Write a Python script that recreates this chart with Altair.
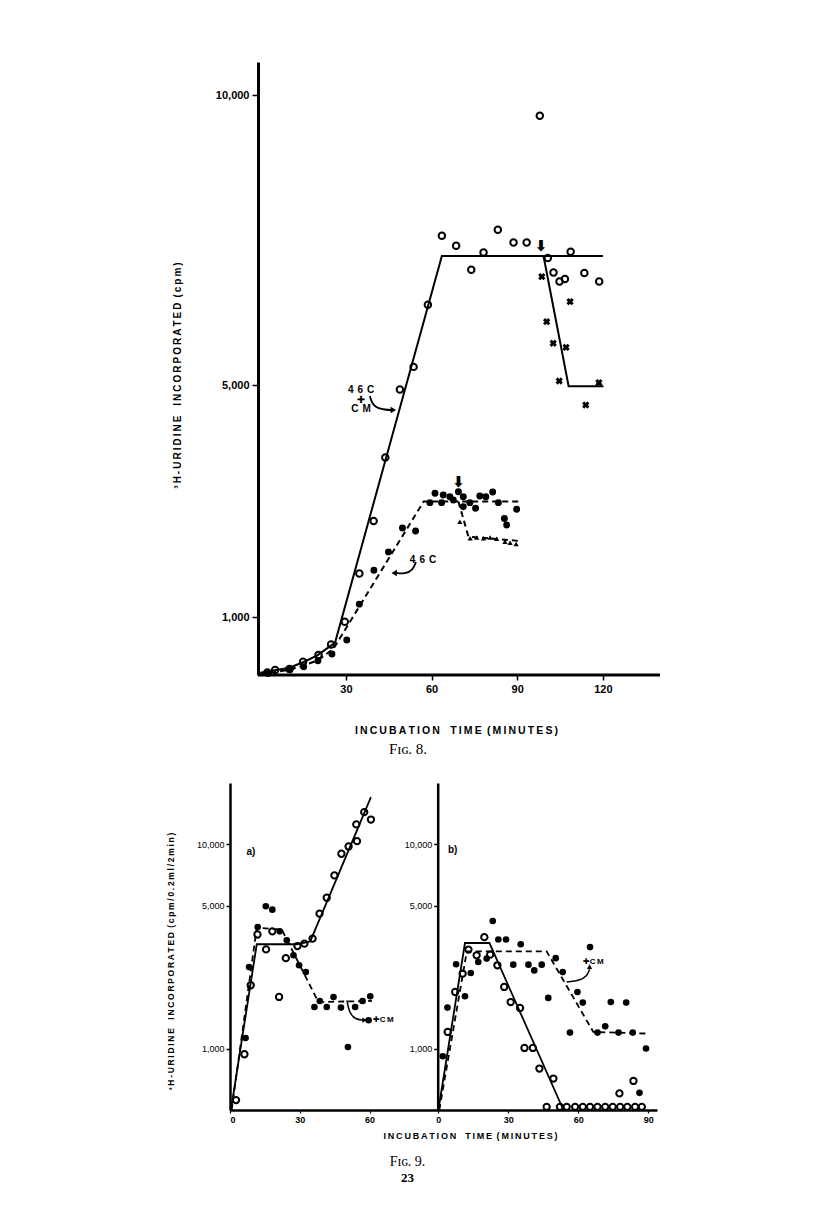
import altair as alt
import pandas as pd

# ---------------- Fig. 8 (linear cpm axis) ----------------
X8_TICKS = [30, 60, 90, 120]
Y8_TICKS = [1000, 5000, 10000]

# 46C + CM, open circles
F8_OPEN_T = [2.5, 5.2, 10.2, 15.0, 20.4, 24.8, 29.6, 34.7, 39.7, 43.8,
             48.9, 53.7, 58.7, 63.6, 68.6, 73.9, 78.2, 83.2, 88.7, 93.3,
             97.9, 100.7, 102.7, 104.8, 106.7, 108.7, 113.5, 118.7]
F8_OPEN_V = [45, 86, 103, 229, 344, 525, 917, 1750, 2656, 3752,
             4923, 5313, 6385, 7573, 7401, 6988, 7286, 7676, 7458, 7458,
             9644, 7189, 6942, 6787, 6828, 7298, 6931, 6787]
# crosses (after the arrow, upper curve)
F8_CROSS_T = [98.6, 100.3, 102.6, 104.7, 107.1, 108.5, 114.0, 118.6]
F8_CROSS_V = [6868, 6092, 5720, 5069, 5650, 6437, 4656, 5040]
# 46C, filled circles
F8_FILLED_T = [2.9, 10.4, 15.2, 20.2, 25.1, 30.3, 34.7, 39.8, 44.9, 49.8,
               54.4, 59.4, 61.2, 63.5, 64.1, 66.4, 67.6, 69.4, 71.1, 71.1,
               73.4, 75.4, 76.9, 79.0, 81.4, 83.4, 85.5, 86.3, 89.8]
F8_FILLED_V = [30, 91, 143, 246, 361, 602, 1222, 1807, 2123, 2536,
               2484, 2972, 3133, 2972, 3103, 3074, 3017, 3160, 3074, 2902,
               2972, 2874, 3087, 3074, 3155, 2972, 2700, 2586, 2857]
# triangles (after the arrow, lower curve)
F8_TRI_T = [69.9, 73.5, 75.8, 78.2, 80.5, 82.8, 85.7, 87.5, 89.6]
F8_TRI_V = [2643, 2357, 2370, 2357, 2370, 2350, 2300, 2280, 2259]
# fitted lines
F8_SOLID_T = [0, 5, 10, 15, 20, 26.2, 63.6, 120]
F8_SOLID_V = [40, 80, 120, 220, 340, 560, 7225, 7225]
F8_SOLID_DROP_T = [99.2, 108.0, 120.2]
F8_SOLID_DROP_V = [7225, 4980, 4980]
F8_DASH_T = [0, 5, 10, 15, 20, 25.6, 57.2, 90.4]
F8_DASH_V = [20, 50, 90, 160, 250, 450, 2990, 2990]
F8_DASH_DROP_T = [69.4, 72.9, 90.4]
F8_DASH_DROP_V = [2990, 2387, 2312]
F8_AXIS_T = [-0.8]
F8_AXIS_T2 = [140]
# annotations
F8_ANN_T = [35.3, 57.0]
F8_ANN_V = [4914, 1983]
F8_ANN_TEXT = ["4\u2009\u20096\u2009\u2009C\n\u271a\nC\u2009\u2009M", "4\u2009\u20096\u2009\u2009C"]
F8_CURVE1_T = [38.4, 39.5, 44.0, 46.1]
F8_CURVE1_V = [4810, 4620, 4570, 4569]
F8_HEAD1_T = [46.6]
F8_HEAD1_V = [4569]
F8_CURVE2_T = [47.5, 50.7, 53.5, 54.5]
F8_CURVE2_V = [1759, 1741, 1810, 1948]
F8_HEAD2_T = [46.9]
F8_HEAD2_V = [1759]
F8_ARROW_T = [98.3, 69.4]
F8_ARROW_V = [7400, 3330]

# ---------------- Fig. 9 (log axis) ----------------
X9A_TICKS = [0, 30, 60]
X9B_TICKS = [0, 30, 60, 90]
Y9_TICKS = [1000, 5000, 10000]

A_OPEN_T = [2.6, 6.2, 8.9, 11.8, 15.5, 18.2, 21.1, 24.0, 29.0, 32.0,
            35.5, 38.5, 41.6, 44.9, 47.9, 51.0, 54.6, 54.3, 57.7, 60.6]
A_OPEN_V = [559, 938, 2042, 3622, 3060, 3751, 1790, 2772, 3178, 3266,
            3455, 4580, 5480, 7050, 9000, 9770, 10380, 12540, 14390, 13240]
A_FILLED_T = [6.7, 8.2, 11.9, 15.4, 18.2, 21.4, 24.4, 27.3, 29.7, 32.6,
              36.3, 38.6, 41.6, 44.5, 47.7, 50.7, 53.8, 57.0, 60.3, 59.6]
A_FILLED_V = [1127, 2506, 3935, 4977, 4790, 3751, 3390, 2864, 2559, 2370,
              1599, 1711, 1599, 1790, 1588, 1018, 1599, 1711, 1802, 1377]
A_SOLID_T = [0.4, 11.5, 28.7, 34.5, 60.6]
A_SOLID_V = [500, 3243, 3243, 3350, 17060]
A_DASH_T = [0.7, 11.5, 22.3, 38.0, 61.0]
A_DASH_V = [500, 3908, 3820, 1690, 1711]
A_ANN_T = [9.0, 61.5]
A_ANN_V = [9143, 1376]
A_ANN_TEXT = ["a)", "\u271aC\u2009M"]
A_CURVE_T = [50.3, 51.2, 53.7, 57.3]
A_CURVE_V = [1723, 1506, 1391, 1377]
A_HEAD_T = [57.9]
A_HEAD_V = [1377]

B_OPEN_T = [4.0, 7.2, 10.4, 12.9, 16.4, 19.7, 22.2, 25.3, 28.2, 31.0,
            35.0, 36.9, 40.5, 43.3, 49.3, 77.6, 83.6,
            46.4, 52.1, 55.0, 58.6, 61.9, 65.0, 68.2, 71.5, 74.7, 77.9, 81.0, 84.3, 87.2]
B_OPEN_V = [1206, 1892, 2328, 3053, 2863, 3515, 2884, 2558, 2004, 1690,
            1580, 1007, 1007, 798, 713, 603, 694,
            518, 518, 518, 518, 518, 518, 518, 518, 518, 518, 518, 518, 518]
B_FILLED_T = [1.9, 3.9, 7.6, 11.4, 13.9, 17.1, 20.7, 23.3, 25.7, 29.0,
              32.1, 35.3, 38.6, 41.1, 44.3, 47.1, 50.3, 53.3, 56.4, 59.6,
              61.9, 65.0, 68.2, 71.5, 73.9, 77.2, 80.5, 83.3, 86.2, 89.0]
B_FILLED_V = [917, 1588, 2588, 1803, 2344, 2654, 2760, 4217, 3420, 3420,
              2576, 3242, 2576, 2415, 2576, 1770, 2773, 2370, 1197, 1892,
              1679, 3141, 1197, 1285, 1690, 1197, 1679, 1197, 607, 1000]
B_SOLID_T = [0, 11.4, 21.9, 53.6]
B_SOLID_V = [500, 3289, 3289, 500]
B_DASH_T = [0.4, 12.2, 46.4, 66.4, 90.0]
B_DASH_V = [500, 2994, 2994, 1206, 1184]
B_ANN_T = [6.1, 62.0]
B_ANN_V = [9350, 2642]
B_ANN_TEXT = ["b)", "\u271aC\u2009M"]
B_CURVE_T = [55.0, 60.7, 63.7, 64.8]
B_CURVE_V = [2120, 2158, 2260, 2444]
B_HEAD_T = [64.8]
B_HEAD_V = [2520]

SANS = "Liberation Sans, Arial, DejaVu Sans"
SERIF = "Liberation Serif, DejaVu Serif"
GLYPH = "DejaVu Sans"


def spaced(s, gap="\u2009"):
    return gap.join(s)


X_TITLE = spaced("INCUBATION") + "\u2003" + spaced("TIME") + "\u2002" + spaced("(MINUTES)")
Y8_TITLE = spaced("\u00b3H-URIDINE") + "\u2003" + spaced("INCORPORATED") + "\u2002" + spaced("(cpm)")
Y9_TITLE = spaced("\u00b3H-URIDINE") + "\u2003" + spaced("INCORPORATED") + "\u2002" + spaced("(cpm/0.2ml/2min)")

TOP_W, TOP_H = 430, 613
BOT_W, BOT_H = 427, 327


def df(t, v, **extra):
    d = {"t": t, "v": v}
    d.update(extra)
    return pd.DataFrame(d)


# ---------- Fig. 8 encodings ----------
x8_scale = alt.Scale(domain=[-10.6, 140], nice=False, zero=False)
y8_scale = alt.Scale(domain=[0, 10570], nice=False, zero=False)
x8_axis = alt.Axis(orient="bottom", values=X8_TICKS, domain=False, grid=False,
                   tickSize=5, tickWidth=1.5, tickColor="black",
                   labelFont=SANS, labelFontSize=11, labelFontWeight="bold",
                   labelColor="black", labelPadding=3,
                   title=X_TITLE, titleFont=SANS, titleFontSize=10.5,
                   titleFontWeight="bold", titleColor="black",
                   titleX=226, titleY=55, titleAlign="center", titleBaseline="middle")
y8_axis = alt.Axis(orient="left", values=Y8_TICKS, format=",d", offset=-28,
                   domainWidth=3, domainColor="black", grid=False,
                   tickSize=6, tickWidth=1.5, tickColor="black",
                   labelFont=SANS, labelFontSize=11, labelFontWeight="bold",
                   labelColor="black", labelPadding=3,
                   title=Y8_TITLE, titleFont=SANS, titleFontSize=10,
                   titleFontWeight="bold", titleColor="black", titleAngle=270,
                   titleX=-81, titleY=313, titleAlign="center", titleBaseline="middle")


def X8():
    return alt.X("t:Q", scale=x8_scale, axis=x8_axis)


def Y8():
    return alt.Y("v:Q", scale=y8_scale, axis=y8_axis)


def lines(data, dashed, enc_x, enc_y, width=2):
    kw = dict(color="black", strokeWidth=width)
    if dashed:
        kw["strokeDash"] = [6, 4]
    return alt.Chart(data).mark_line(**kw).encode(x=enc_x(), y=enc_y())


def open_pts(data, enc_x, enc_y, size=42):
    return alt.Chart(data).mark_point(shape="circle", filled=False, color="black",
                                      strokeWidth=2, size=size, opacity=1).encode(x=enc_x(), y=enc_y())


def filled_pts(data, enc_x, enc_y, size=48):
    return alt.Chart(data).mark_point(shape="circle", filled=True, color="black",
                                      size=size, opacity=1).encode(x=enc_x(), y=enc_y())


def texts(data, enc_x, enc_y, font=SANS, size=10, weight="bold", align="center", line_h=10):
    return alt.Chart(data).mark_text(font=font, fontSize=size, fontWeight=weight, color="black",
                                     align=align, baseline="middle", lineBreak="\n",
                                     lineHeight=line_h).encode(
        x=enc_x(), y=enc_y(), text="label:N")


def curved_arrow(t, v, head_t, head_v, head_shape, enc_x, enc_y, width=1.6, head_size=30):
    path = alt.Chart(df(t, v)).mark_line(color="black", strokeWidth=width,
                                         interpolate="basis").encode(x=enc_x(), y=enc_y())
    head = alt.Chart(df(head_t, head_v)).mark_point(shape=head_shape, filled=True, size=head_size,
                                                    color="black", opacity=1).encode(x=enc_x(), y=enc_y())
    return [path, head]


axis8 = alt.Chart(pd.DataFrame({"t": F8_AXIS_T, "t2": F8_AXIS_T2, "v": [0]})).mark_rule(
    color="black", strokeWidth=3).encode(x=X8(), x2="t2:Q", y=Y8())

top = alt.layer(
    axis8,
    lines(df(F8_SOLID_T, F8_SOLID_V), False, X8, Y8),
    lines(df(F8_SOLID_DROP_T, F8_SOLID_DROP_V), False, X8, Y8),
    lines(df(F8_DASH_T, F8_DASH_V), True, X8, Y8),
    lines(df(F8_DASH_DROP_T, F8_DASH_DROP_V), True, X8, Y8),
    open_pts(df(F8_OPEN_T, F8_OPEN_V), X8, Y8),
    filled_pts(df(F8_FILLED_T, F8_FILLED_V), X8, Y8),
    alt.Chart(df(F8_CROSS_T, F8_CROSS_V)).mark_point(shape="cross", filled=True, angle=45, size=55,
                                                      color="black", opacity=1).encode(x=X8(), y=Y8()),
    alt.Chart(df(F8_TRI_T, F8_TRI_V)).mark_point(shape="triangle-up", filled=True, size=28,
                                                  color="black", opacity=1).encode(x=X8(), y=Y8()),
    texts(df(F8_ANN_T, F8_ANN_V, label=F8_ANN_TEXT), X8, Y8, line_h=9.5),
    *curved_arrow(F8_CURVE1_T, F8_CURVE1_V, F8_HEAD1_T, F8_HEAD1_V, "triangle-right", X8, Y8, 1.8, 40),
    *curved_arrow(F8_CURVE2_T, F8_CURVE2_V, F8_HEAD2_T, F8_HEAD2_V, "triangle-left", X8, Y8, 1.8, 40),
    texts(df(F8_ARROW_T, F8_ARROW_V, label=["\u2b07", "\u2b07"]), X8, Y8, font=GLYPH, size=15),
).properties(
    width=TOP_W, height=TOP_H,
    title=alt.TitleParams("F\u026a\u0262. 8.", orient="bottom", frame="group", font=SERIF,
                          fontSize=15, fontWeight="normal", color="black", dx=-37, offset=6),
)

# ---------- Fig. 9 encodings ----------
x9a_scale = alt.Scale(domain=[0, 183.6], nice=False, zero=False)
x9b_scale = alt.Scale(domain=[-89.3, 93.7], nice=False, zero=False)
y9a_scale = alt.Scale(type="log", domain=[500, 20000], nice=False)
y9b_scale = alt.Scale(type="log", domain=[500, 20000], nice=False)

common_x9 = dict(orient="bottom", grid=False, tickSize=3, tickWidth=1.2, tickColor="black",
                 labelFont=SANS, labelFontSize=9, labelFontWeight="bold", labelColor="black",
                 labelPadding=2)
common_y9 = dict(orient="left", values=Y9_TICKS, format=",d", grid=False, domainWidth=2.5,
                 domainColor="black", tickSize=4, tickWidth=1.5, tickColor="black",
                 labelFont=SANS, labelFontSize=9, labelColor="black", labelPadding=2)

x9a_axis = alt.Axis(values=X9A_TICKS, domainWidth=2.5, domainColor="black",
                    title=X_TITLE, titleFont=SANS, titleFontSize=9, titleFontWeight="bold",
                    titleColor="black", titleX=240, titleY=25, titleAlign="center",
                    titleBaseline="middle", **common_x9)
x9b_axis = alt.Axis(values=X9B_TICKS, domain=False, title="", **common_x9)
y9a_axis = alt.Axis(title=Y9_TITLE, titleFont=SANS, titleFontSize=8.5, titleFontWeight="bold",
                    titleColor="black", titleAngle=270, titleX=-60, titleY=178,
                    titleAlign="center", titleBaseline="middle", **common_y9)
y9b_axis = alt.Axis(title="", offset=-207.7, **common_y9)


def XA():
    return alt.X("t:Q", scale=x9a_scale, axis=x9a_axis)


def YA():
    return alt.Y("v:Q", scale=y9a_scale, axis=y9a_axis)


def XB():
    return alt.X("t:Q", scale=x9b_scale, axis=x9b_axis)


def YB():
    return alt.Y("v:Q", scale=y9b_scale, axis=y9b_axis)


# invisible anchor that fixes the left edge of the whole page layout
anchor = alt.Chart(pd.DataFrame({"k": [0]})).mark_rule(opacity=0, strokeWidth=1).encode(
    x=alt.value(-222), x2=alt.value(-222), y=alt.value(0), y2=alt.value(1))

panel_a = alt.layer(
    anchor,
    lines(df(A_SOLID_T, A_SOLID_V), False, XA, YA, 1.8),
    lines(df(A_DASH_T, A_DASH_V), True, XA, YA, 1.8),
    open_pts(df(A_OPEN_T, A_OPEN_V), XA, YA, 40),
    filled_pts(df(A_FILLED_T, A_FILLED_V), XA, YA, 44),
    texts(df(A_ANN_T[:1], A_ANN_V[:1], label=A_ANN_TEXT[:1]), XA, YA, size=10),
    texts(df(A_ANN_T[1:], A_ANN_V[1:], label=A_ANN_TEXT[1:]), XA, YA, size=8, align="left"),
    *curved_arrow(A_CURVE_T, A_CURVE_V, A_HEAD_T, A_HEAD_V, "triangle-right", XA, YA, 1.5, 28),
)

panel_b = alt.layer(
    lines(df(B_SOLID_T, B_SOLID_V), False, XB, YB, 1.8),
    lines(df(B_DASH_T, B_DASH_V), True, XB, YB, 1.8),
    open_pts(df(B_OPEN_T, B_OPEN_V), XB, YB, 40),
    filled_pts(df(B_FILLED_T, B_FILLED_V), XB, YB, 44),
    texts(df(B_ANN_T[:1], B_ANN_V[:1], label=B_ANN_TEXT[:1]), XB, YB, size=10),
    texts(df(B_ANN_T[1:], B_ANN_V[1:], label=B_ANN_TEXT[1:]), XB, YB, size=8, align="left"),
    *curved_arrow(B_CURVE_T, B_CURVE_V, B_HEAD_T, B_HEAD_V, "triangle-up", XB, YB, 1.5, 28),
)

bottom = alt.layer(panel_a, panel_b).resolve_scale(
    x="independent", y="independent"
).resolve_axis(x="independent", y="independent").properties(
    width=BOT_W, height=BOT_H,
    title=alt.TitleParams("F\u026a\u0262. 9.", subtitle="23", orient="bottom", frame="group",
                          font=SERIF, fontSize=14, fontWeight="normal", color="black",
                          subtitleFont=SERIF, subtitleFontSize=13, subtitleFontWeight="bold",
                          subtitleColor="black", subtitlePadding=3, dx=-36, offset=15),
)

chart = alt.vconcat(top, bottom, spacing=108, bounds="flush").properties(
    padding={"left": 0, "top": 54, "right": 10, "bottom": 10}
).configure_view(stroke=None)

chart.save("out.html", embed_options={"renderer": "svg", "actions": False})
